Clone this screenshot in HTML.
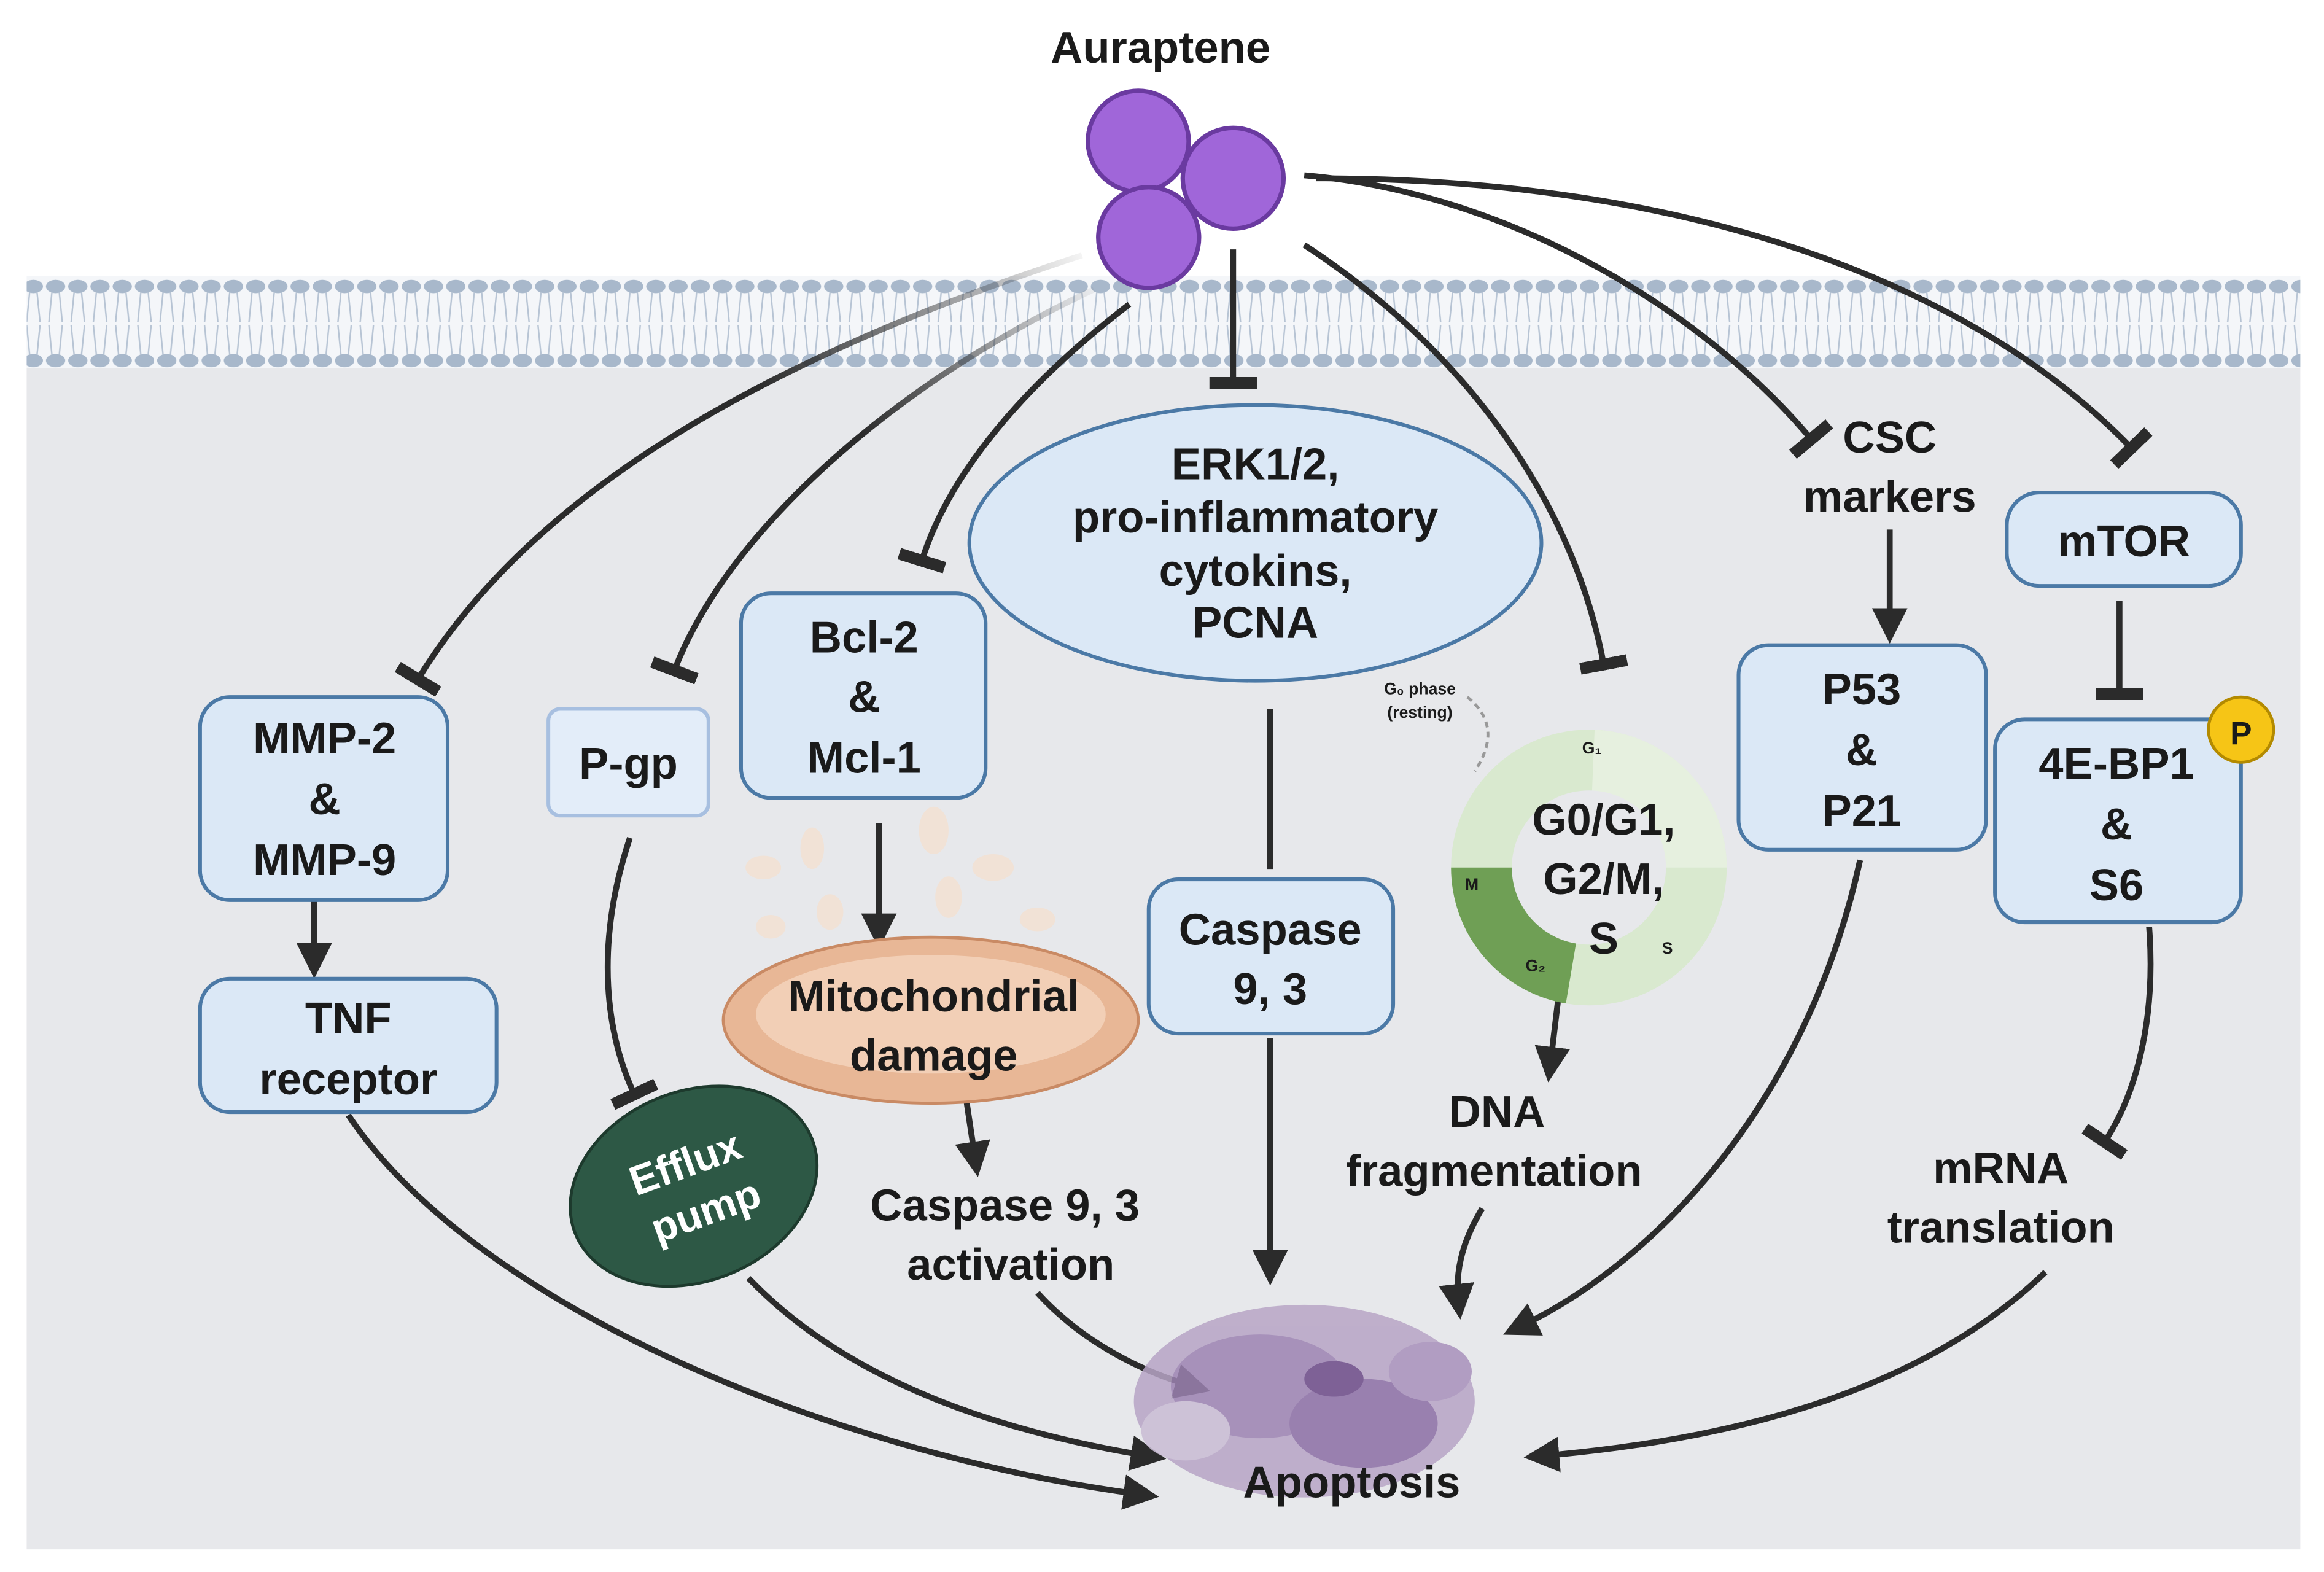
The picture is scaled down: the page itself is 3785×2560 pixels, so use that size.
<!DOCTYPE html>
<html><head><meta charset="utf-8"><style>
html,body{margin:0;padding:0;background:#fff;}
svg{display:block;}
text{font-family:"Liberation Sans",sans-serif;font-weight:bold;fill:#1a1a1a;}
</style></head><body>
<svg width="3785" height="2560" viewBox="0 0 1568 1060" xmlns="http://www.w3.org/2000/svg">
<defs>
<marker id="ah" markerWidth="6" markerHeight="6" refX="3" refY="3" orient="auto" markerUnits="strokeWidth">
<path d="M0,0 L6,3 L0,6 Z" fill="#2b2b2b"/></marker>
<marker id="tb" markerWidth="2" markerHeight="8" refX="1" refY="4" orient="auto" markerUnits="strokeWidth">
<rect x="0" y="0" width="2" height="8" fill="#2b2b2b"/></marker>
<linearGradient id="fadeA" gradientUnits="userSpaceOnUse" x1="730" y1="172" x2="520" y2="280"><stop offset="0" stop-color="#2b2b2b" stop-opacity="0.05"/><stop offset="1" stop-color="#2b2b2b"/></linearGradient>
<linearGradient id="fadeB" gradientUnits="userSpaceOnUse" x1="738" y1="195" x2="580" y2="290"><stop offset="0" stop-color="#2b2b2b" stop-opacity="0.05"/><stop offset="1" stop-color="#2b2b2b"/></linearGradient>
<pattern id="mem" x="0" y="188" width="15" height="60" patternUnits="userSpaceOnUse">
<ellipse cx="7.5" cy="5" rx="6.5" ry="4.5" fill="#a8b8cb"/>
<ellipse cx="7.5" cy="55" rx="6.5" ry="4.5" fill="#a8b8cb"/>
<path d="M5,9 L3,29 M10,9 L12,29 M5,51 L3,31 M10,51 L12,31" stroke="#b7c4d4" stroke-width="1"/>
</pattern>
</defs>
<rect width="1568" height="1060" fill="#fff"/>
<rect x="18" y="225" width="1534" height="820" fill="#e7e8eb"/>
<rect x="18" y="186" width="1534" height="62" fill="#f4f6f9"/>
<rect x="18" y="188" width="1534" height="60" fill="url(#mem)"/>

<text x="783" y="42" font-size="30" text-anchor="middle">Auraptene</text>

<g fill="none" stroke="#2b2b2b" stroke-width="4">
<path d="M730,172 C520,240 360,330 282,458" stroke="url(#fadeA)" marker-end="url(#tb)"/>
<path d="M738,195 C600,260 490,360 455,452" stroke="url(#fadeB)" marker-end="url(#tb)"/>
<path d="M762,205 C690,260 640,320 622,378" marker-end="url(#tb)"/>
<path d="M832,168 L832,258" marker-end="url(#tb)"/>
<path d="M880,165 C980,230 1060,330 1082,448" marker-end="url(#tb)"/>
<path d="M880,118 C1020,130 1150,210 1222,296" marker-end="url(#tb)"/>
<path d="M888,120 C1140,120 1330,190 1438,302" marker-end="url(#tb)"/>
<path d="M212,607 L212,648" marker-end="url(#ah)"/>
<path d="M235,752 C320,880 560,980 770,1008" marker-end="url(#ah)"/>
<path d="M425,565 C400,640 410,700 428,738" marker-end="url(#tb)"/>
<path d="M505,862 C570,930 670,965 775,982" marker-end="url(#ah)"/>
<path d="M593,555 L593,628" marker-end="url(#ah)"/>
<path d="M652,742 L658,782" marker-end="url(#ah)"/>
<path d="M700,872 C730,905 770,925 805,935" marker-end="url(#ah)"/>
<path d="M857,478 L857,586" />
<path d="M857,700 L857,855" marker-end="url(#ah)"/>
<path d="M1052,668 L1046,718" marker-end="url(#ah)"/>
<path d="M1000,815 C985,840 982,860 984,878" marker-end="url(#ah)"/>
<path d="M1275,357 L1275,422" marker-end="url(#ah)"/>
<path d="M1255,580 C1220,740 1120,850 1025,895" marker-end="url(#ah)"/>
<path d="M1430,405 L1430,468" marker-end="url(#tb)"/>
<path d="M1450,625 C1455,690 1440,740 1420,770" marker-end="url(#tb)"/>
<path d="M1380,858 C1300,935 1180,970 1040,982" marker-end="url(#ah)"/>
</g>

<g fill="#a066d9" stroke="#6a3aa0" stroke-width="3">
<circle cx="768" cy="95" r="34"/>
<circle cx="832" cy="120" r="34"/>
<circle cx="775" cy="160" r="34"/>
</g>

<g fill="#dbe8f6" stroke="#4b79a6" stroke-width="2.5">
<rect x="135" y="470" width="167" height="137" rx="20"/>
<rect x="135" y="660" width="200" height="90" rx="20"/>
<rect x="370" y="478" width="108" height="72" rx="8" fill="#e3edf9" stroke="#a7bfe0"/>
<rect x="500" y="400" width="165" height="138" rx="20"/>
<ellipse cx="847" cy="366" rx="193" ry="93"/>
<rect x="775" y="593" width="165" height="104" rx="20"/>
<rect x="1354" y="332" width="158" height="63" rx="22"/>
<rect x="1173" y="435" width="167" height="138" rx="20"/>
<rect x="1346" y="485" width="166" height="137" rx="20"/>
</g>
<circle cx="1512" cy="492" r="22" fill="#f6c516" stroke="#b38a00" stroke-width="2"/>
<text x="1512" y="502" font-size="22" text-anchor="middle" font-weight="normal">P</text>

<g fill="#f1e2d6">
<ellipse cx="515" cy="585" rx="12" ry="8"/><ellipse cx="548" cy="572" rx="8" ry="14"/>
<ellipse cx="630" cy="560" rx="10" ry="16"/><ellipse cx="670" cy="585" rx="14" ry="9"/>
<ellipse cx="560" cy="615" rx="9" ry="12"/><ellipse cx="700" cy="620" rx="12" ry="8"/>
<ellipse cx="520" cy="625" rx="10" ry="8"/><ellipse cx="640" cy="605" rx="9" ry="14"/>
</g>
<ellipse cx="628" cy="688" rx="140" ry="56" fill="#e8b796" stroke="#c98a64" stroke-width="2"/>
<ellipse cx="628" cy="684" rx="118" ry="40" fill="#f2cfb6"/>
<text x="630" y="682" font-size="30" text-anchor="middle">Mitochondrial</text>
<text x="630" y="722" font-size="30" text-anchor="middle">damage</text>

<ellipse cx="468" cy="800" rx="86" ry="64" transform="rotate(-22 468 800)" fill="#2d5845" stroke="#1d3a2d" stroke-width="2"/>
<g transform="rotate(-20 468 800)">
<text x="468" y="793" font-size="28" text-anchor="middle" style="fill:#fff">Efflux</text>
<text x="470" y="828" font-size="28" text-anchor="middle" style="fill:#fff">pump</text>
</g>

<circle cx="1072" cy="585" r="72" fill="none" stroke="#d9e9cf" stroke-width="42"/>
<path d="M1000,585 A72,72 0 0 0 1060,656" fill="none" stroke="#6f9f55" stroke-width="42"/>
<path d="M1075,513 A72,72 0 0 1 1144,585" fill="none" stroke="#e6f0df" stroke-width="42"/>
<circle cx="1072" cy="585" r="52" fill="#e7e8eb"/>
<text x="958" y="468" font-size="11" text-anchor="middle" fill="#333">G₀ phase</text>
<text x="958" y="484" font-size="11" text-anchor="middle" font-weight="normal">(resting)</text>
<path d="M990,470 q25,20 5,50" stroke="#999" stroke-width="2" fill="none" stroke-dasharray="4 3"/>
<text x="1074" y="508" font-size="11" text-anchor="middle" font-weight="normal">G₁</text>
<text x="993" y="600" font-size="11" text-anchor="middle" font-weight="normal">M</text>
<text x="1036" y="655" font-size="11" text-anchor="middle" font-weight="normal">G₂</text>
<text x="1125" y="643" font-size="11" text-anchor="middle" font-weight="normal">S</text>

<g opacity="0.85">
<ellipse cx="880" cy="945" rx="115" ry="65" fill="#b7a5c6"/>
<ellipse cx="850" cy="935" rx="60" ry="35" fill="#9c82b2"/>
<ellipse cx="920" cy="960" rx="50" ry="30" fill="#8c6ea5"/>
<ellipse cx="900" cy="930" rx="20" ry="12" fill="#6c4a88"/>
<ellipse cx="800" cy="965" rx="30" ry="20" fill="#c9bcd4"/>
<ellipse cx="965" cy="925" rx="28" ry="20" fill="#a891bb"/>
</g>
<text x="912" y="1010" font-size="30" text-anchor="middle">Apoptosis</text>

<g font-size="30" text-anchor="middle">
<text x="219" y="508">MMP-2</text><text x="219" y="549">&amp;</text><text x="219" y="590">MMP-9</text>
<text x="235" y="697">TNF</text><text x="235" y="738">receptor</text>
<text x="424" y="525">P-gp</text>
<text x="583" y="440">Bcl-2</text><text x="583" y="480">&amp;</text><text x="583" y="521">Mcl-1</text>
<text x="847" y="323">ERK1/2,</text><text x="847" y="359">pro-inflammatory</text><text x="847" y="395">cytokins,</text><text x="847" y="430">PCNA</text>
<text x="857" y="637">Caspase</text><text x="857" y="677">9, 3</text>
<text x="1082" y="563">G0/G1,</text><text x="1082" y="603">G2/M,</text><text x="1082" y="643">S</text>
<text x="1010" y="760">DNA</text><text x="1008" y="800">fragmentation</text>
<text x="678" y="823">Caspase 9, 3</text><text x="682" y="863">activation</text>
<text x="1275" y="305">CSC</text><text x="1275" y="345">markers</text>
<text x="1433" y="375">mTOR</text>
<text x="1256" y="475">P53</text><text x="1256" y="516">&amp;</text><text x="1256" y="557">P21</text>
<text x="1428" y="525">4E-BP1</text><text x="1428" y="566">&amp;</text><text x="1428" y="607">S6</text>
<text x="1350" y="798">mRNA</text><text x="1350" y="838">translation</text>
</g>
</svg>
</body></html>
